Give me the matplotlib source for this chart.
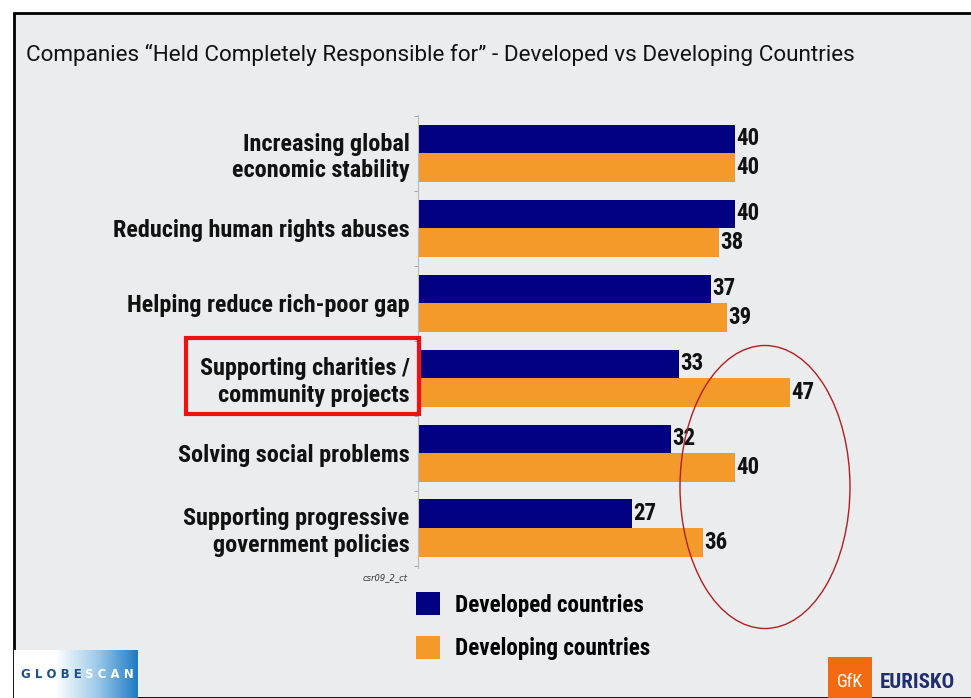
import numpy as np
import matplotlib
matplotlib.use("Agg")
import matplotlib.pyplot as plt
from matplotlib.patches import Rectangle, Ellipse
from matplotlib.colors import LinearSegmentedColormap

categories = ["Increasing global\neconomic stability",
              "Reducing human rights abuses",
              "Helping reduce rich-poor gap",
              "Supporting charities /\ncommunity projects",
              "Solving social problems",
              "Supporting progressive\ngovernment policies"]
developed = [40, 40, 37, 33, 32, 27]
developing = [40, 38, 39, 47, 40, 36]
series_names = ["Developed countries", "Developing countries"]
title = "Companies \u201cHeld Completely Responsible for\u201d - Developed vs Developing Countries"

W, H = 971, 698
BG = "#EBECEE"
NAVY = "#000080"
ORANGE = "#F39A2B"
COND = ["Roboto Condensed", "Roboto", "DejaVu Sans"]

def fx(x):
    return x / W
def fy(y):
    return 1 - y / H

fig = plt.figure(figsize=(W / 100, H / 100), dpi=100)
fig.patch.set_facecolor("white")
fig.add_artist(Rectangle((fx(14), 0), 1 - fx(14) + 0.01, fy(13), transform=fig.transFigure,
                         facecolor=BG, edgecolor="black", linewidth=2, zorder=0))

fig.text(fx(26), fy(55), title, fontsize=16.2, va="center", ha="left",
         family=["Roboto", "DejaVu Sans"], color="#111111")

ax_l, ax_r = 418, 814
ax_t, ax_b = 115, 568
ax = fig.add_axes([fx(ax_l), fy(ax_b), (ax_r - ax_l) / W, (ax_b - ax_t) / H])
ax.patch.set_alpha(0)
ax.set_xlim(0, 50)
ax.set_ylim(5 + 40 / 75, -38 / 75)

y = np.arange(len(categories))
h = 0.38
b1 = ax.barh(y - h / 2, developed, height=h, color=NAVY, label=series_names[0])
b2 = ax.barh(y + h / 2, developing, height=h, color=ORANGE, label=series_names[1])
for bars, vals in ((b1, developed), (b2, developing)):
    for rect, v in zip(bars, vals):
        ax.text(v + 0.15, rect.get_y() + rect.get_height() / 2, str(v),
                va="center", ha="left", fontsize=16.5, fontweight="bold",
                family=COND, color="#111111")

ax.set_yticks(y)
ax.set_yticklabels(categories, fontsize=17.4, fontweight="bold", family=COND,
                   multialignment="right", color="#111111", linespacing=1.19)
ax.tick_params(axis="y", length=0, pad=6)
ax.set_yticks(np.arange(-0.5, 6, 1), minor=True)
ax.tick_params(axis="y", which="minor", length=3, color="#999999")
ax.set_xticks([])
for s in ("top", "right", "bottom"):
    ax.spines[s].set_visible(False)
ax.spines["left"].set_color("#BBBBBB")
ax.spines["left"].set_linewidth(0.8)

leg = fig.legend(handles=[b1, b2], labels=series_names, loc="upper left",
                 bbox_to_anchor=(fx(416), fy(592)), frameon=False,
                 prop={"family": COND, "weight": "bold", "size": 16.7},
                 handlelength=1.04, handleheight=1.17, handletextpad=0.62,
                 labelspacing=0.82, borderaxespad=0, borderpad=0)

fig.text(fx(385), fy(578), "csr09_2_ct", fontsize=6, style="italic", color="#333333",
         ha="center", va="center")

# annotations
fig.add_artist(Rectangle((fx(186), fy(414)), (419 - 186) / W, (414 - 338) / H,
                         transform=fig.transFigure, fill=False, edgecolor="#EE1111",
                         linewidth=3, zorder=5))
fig.add_artist(Ellipse((fx(765), fy(487)), 170 / W, 283 / H, transform=fig.transFigure,
                       fill=False, edgecolor="#B02020", linewidth=1, zorder=5))

# logos
lax = fig.add_axes([fx(14), 0, (138 - 14) / W, (698 - 650) / H])
grad = np.linspace(0, 1, 200)[None, :]
cm = LinearSegmentedColormap.from_list("g", ["#FFFFFF", "#FFFFFF", "#9FCBEA", "#1E7CC4"])
lax.imshow(grad, aspect="auto", cmap=cm, extent=(0, 1, 0, 1))
lax.text(0.06, 0.48, "G L O B E", color="#1D4E8A", fontsize=8.5, fontweight="bold",
         va="center", ha="left", transform=lax.transAxes)
lax.text(0.57, 0.48, "S C A N", color="white", fontsize=8.5, fontweight="bold",
         va="center", ha="left", transform=lax.transAxes)
lax.set_xlim(0, 1); lax.set_ylim(0, 1)
lax.axis("off")

fig.add_artist(Rectangle((fx(828), 0), 44 / W, (698 - 657) / H, transform=fig.transFigure,
                         facecolor="#F26A12", edgecolor="none", zorder=3))
fig.text(fx(850), fy(682), "GfK", color="white", fontsize=13, ha="center", va="center",
         family=COND, zorder=4)
fig.text(fx(880), fy(682), "EURISKO", color="#1F2F6E", fontsize=15, ha="left", va="center",
         fontweight="bold", family=COND, zorder=4)

fig.savefig("out.png", dpi=100, facecolor=fig.get_facecolor())
